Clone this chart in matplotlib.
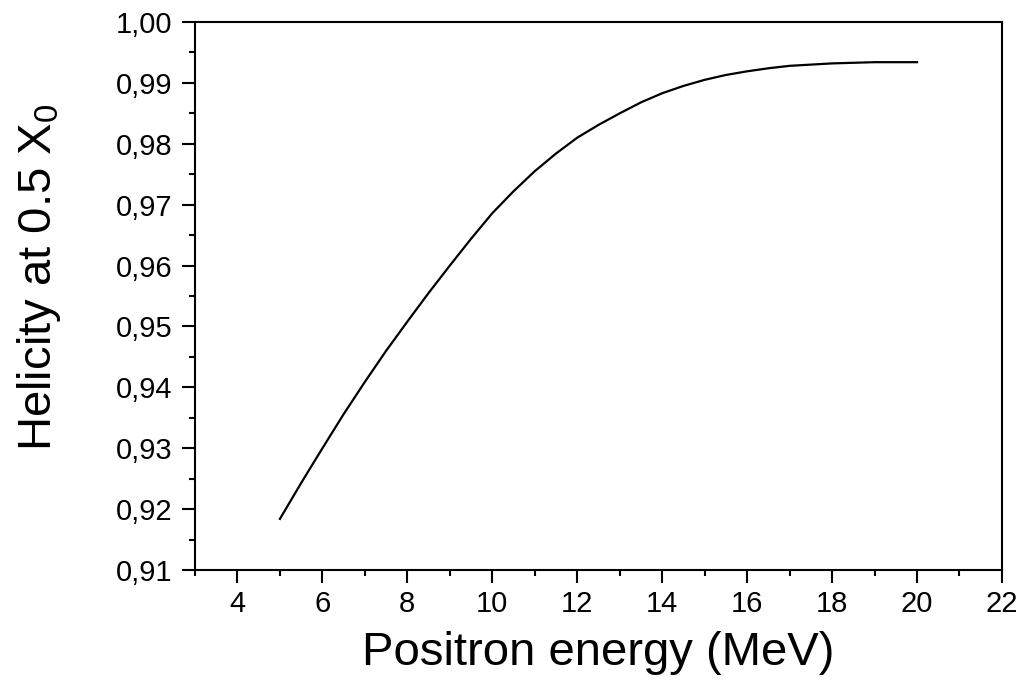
import matplotlib
matplotlib.use("Agg")
import matplotlib.pyplot as plt
from matplotlib.ticker import MultipleLocator, FuncFormatter

plt.rcParams['font.family'] = ['Liberation Sans', 'DejaVu Sans']
plt.rcParams['mathtext.fontset'] = 'custom'
plt.rcParams['mathtext.rm'] = 'Liberation Sans'
plt.rcParams['mathtext.it'] = 'Liberation Sans:italic'

energy = [5, 5.5, 6, 6.5, 7, 7.5, 8, 8.5, 9, 9.5, 10, 10.5, 11, 11.5, 12, 12.5,
          13, 13.5, 14, 14.5, 15, 15.5, 16, 16.5, 17, 17.5, 18, 19, 20]
helicity = [0.9184, 0.9243, 0.9300, 0.9356, 0.9409, 0.9460, 0.9508, 0.9555,
            0.9600, 0.9644, 0.9686, 0.9722, 0.9755, 0.9784, 0.9810, 0.9831,
            0.9850, 0.9868, 0.9883, 0.9895, 0.9905, 0.9913, 0.9919, 0.9924,
            0.9928, 0.9930, 0.9932, 0.9934, 0.9934]

fig = plt.figure(figsize=(10.22, 6.83), dpi=100)
ax = fig.add_axes([0.1908, 0.1654, 0.7896, 0.8024])
ax.plot(energy, helicity, color='black', lw=1.6, solid_joinstyle='round')

ax.set_xlim(3, 22)
ax.set_ylim(0.91, 1.00)
ax.xaxis.set_major_locator(MultipleLocator(2))
ax.xaxis.set_minor_locator(MultipleLocator(1))
ax.yaxis.set_major_locator(MultipleLocator(0.01))
ax.yaxis.set_minor_locator(MultipleLocator(0.005))
ax.yaxis.set_major_formatter(FuncFormatter(lambda v, p: f"{v:.2f}".replace('.', ',')))
ax.xaxis.set_major_formatter(FuncFormatter(lambda v, p: f"{v:.0f}" if v >= 4 else ""))

for s in ax.spines.values():
    s.set_linewidth(1.5)
ax.tick_params(which='major', direction='out', length=9.5, width=1.5, labelsize=21, pad=7)
ax.tick_params(axis='x', which='major', pad=5)
ax.tick_params(which='minor', direction='out', length=4.5, width=1.5)
ax.tick_params(top=False, right=False)

ax.set_xlabel('Positron energy (MeV)', fontsize=34, labelpad=9)
ax.set_ylabel('Helicity at 0.5 X$_0$', fontsize=34)
ax.yaxis.set_label_coords(-0.163, 0.535)

fig.savefig('out.png', dpi=100, facecolor='white')
